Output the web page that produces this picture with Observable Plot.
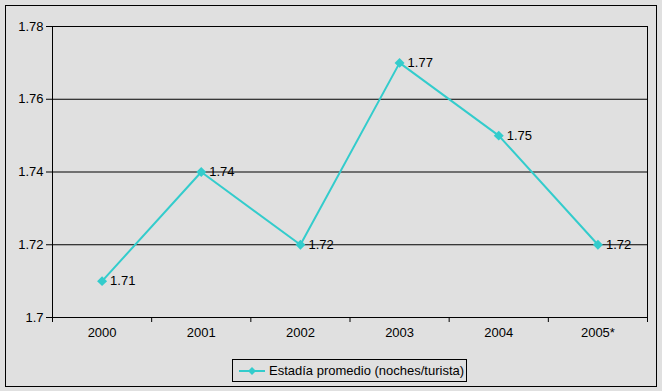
<!DOCTYPE html>
<html><head><meta charset="utf-8">
<script src="https://cdn.jsdelivr.net/npm/d3@7"></script>
<script src="https://cdn.jsdelivr.net/npm/@observablehq/plot@0.6"></script>
<style>
html,body{margin:0;padding:0;background:#E0E0E0;}
#wrap{position:relative;width:662px;height:391px;background:#E0E0E0;font-family:"Liberation Sans",Arial,sans-serif;}
#border{position:absolute;left:5px;top:5px;width:650px;height:380px;border:1px solid #000;pointer-events:none;}
#legend{position:absolute;left:232px;top:359px;width:233px;height:21px;border:1px solid #000;font-size:13px;display:flex;align-items:center;}
#legend svg{margin-left:6px;margin-right:4px;}
</style></head>
<body><div id="wrap"><div id="chart"></div><div id="border"></div>
<div id="legend"><svg width="26" height="10"><line x1="0" y1="5" x2="26" y2="5" stroke="#33CCCC" stroke-width="2"/><path d="M13,1L17,5L13,9L9,5Z" fill="#33CCCC"/></svg><span>Estadía promedio (noches/turista)</span></div>
</div>
<script>
const years = ["2000","2001","2002","2003","2004","2005*"];
const values = [1.71, 1.74, 1.72, 1.77, 1.75, 1.72];
const yTicks = [1.70, 1.72, 1.74, 1.76, 1.78];
const seriesName = "Estadía promedio (noches/turista)";

const data = years.map((y, i) => ({i, year: y, value: values[i]}));
const idx = years.map((_, i) => i);
const bounds = [...idx.map(i => i - 0.5), years.length - 0.5];
const color = "#33CCCC";
const fmt = d => String(+d.toFixed(2));

const chart = Plot.plot({
  width: 662, height: 391,
  marginLeft: 52, marginRight: 15, marginTop: 26, marginBottom: 74,
  style: {background: "transparent", fontFamily: "'Liberation Sans', Arial, sans-serif", fontSize: "13px", color: "#000"},
  x: {type: "linear", domain: [-0.5, years.length - 0.5]},
  y: {domain: [1.70, 1.78]},
  marks: [
    Plot.ruleY(yTicks, {stroke: "#000", strokeOpacity: 1}),
    Plot.frame({stroke: "#000"}),
    Plot.axisY({ticks: yTicks, tickFormat: fmt, tickSize: 6, tickPadding: 3, stroke: "#000", label: null, fontSize: 13}),
    Plot.axisX({ticks: bounds, tickFormat: () => "", tickSize: 5, label: null, stroke: "#000"}),
    Plot.axisX({ticks: idx, tickFormat: i => years[i], tickSize: 0, tickPadding: 10, label: null, fontSize: 13}),
    Plot.line(data, {x: "i", y: "value", stroke: color, strokeWidth: 2}),
    Plot.dot(data, {x: "i", y: "value", symbol: "diamond2", r: 4.5, fill: color, stroke: "none"}),
    Plot.text(data, {x: "i", y: "value", text: d => fmt(d.value), dx: 8, textAnchor: "start", fontSize: 13, fill: "#000"})
  ]
});
document.getElementById("chart").appendChild(chart);
</script>
</body></html>
